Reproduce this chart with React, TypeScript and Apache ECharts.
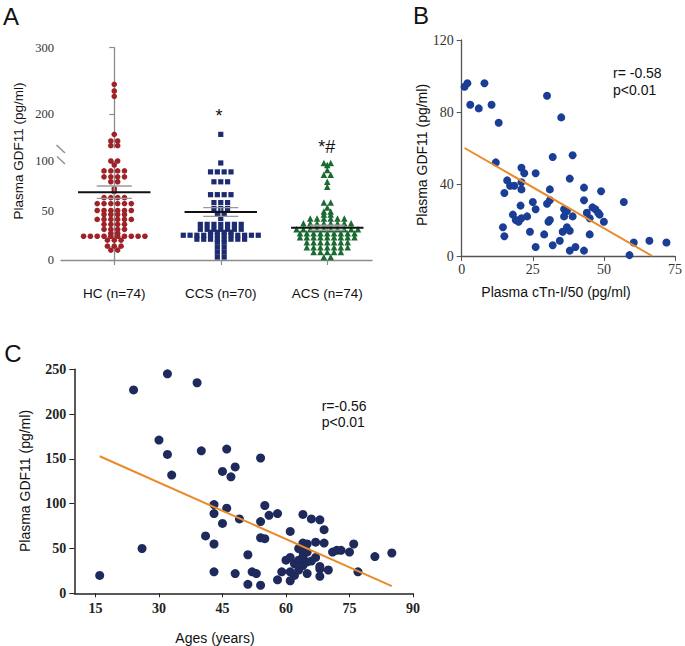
import React, { useEffect, useRef } from "react";
import * as echarts from "echarts";

// ---------- Panel A data ----------
const groupNames = ["HC (n=74)", "CCS (n=70)", "ACS (n=74)"];
const hcValues = [
  245, 235, 227, 170, 160, 160, 153, 153,
  100, 100, 96, 90, 90, 90, 90, 84, 84, 84, 84, 79, 79, 72, 69,
  63, 63, 63, 63, 57, 57, 57, 57, 57, 57,
  50, 50, 50, 50, 50, 50, 46, 46, 46, 46,
  41, 41, 41, 41, 41, 41, 36, 36, 36, 36, 31, 31, 31, 31,
  27, 27, 24, 24, 24, 24, 24, 24, 24, 24, 24, 24,
  20, 20, 20, 14, 14, 14, 10, 10,
];
const ccsValues = [
  170, 98, 89, 89, 89, 89, 79, 79, 79, 66, 66, 66, 66, 58, 58, 58,
  52, 52, 52, 47, 47, 42, 36, 36, 36, 36, 36, 36, 36,
  31, 31, 31, 31, 31, 31, 31, 28, 28, 28, 28,
  25, 25, 25, 25, 25, 25, 25, 25, 25, 25, 25, 25,
  21, 21, 21, 21, 21, 21, 21, 21, 18, 18, 13, 13, 8, 8, 3, 3,
];
const acsValues = [
  98, 98, 96, 91, 86, 86, 79, 74, 58, 58, 53, 49, 49, 46, 46,
  42, 42, 42, 42, 42, 42, 37, 37, 37, 37, 37, 37, 37, 37,
  31, 31, 31, 31, 31, 31, 31, 31, 31, 31,
  27, 27, 27, 27, 27, 27, 27, 27, 27,
  23, 23, 23, 23, 23, 23, 23, 23, 23,
  18, 18, 18, 18, 18, 18, 18, 13, 13, 13, 13, 13, 13, 13,
  8, 8, 8, 8, 8, 3, 3,
];
const groupMeans = [68.5, 48.5, 32.6];
const groupSems = [6.3, 4.4, 2.5];

// ---------- Panel B data (cTn-I/50, GDF11) ----------
const bPoints = [
  [1, 94], [2, 96], [3, 84], [6, 82], [8, 96], [10.5, 84], [13, 74], [12, 52],
  [30, 89], [35, 77], [32, 55], [39, 56], [16, 42], [15, 35], [17, 39], [18.5, 39],
  [21, 49], [22, 46], [21, 41], [21, 37], [26, 46], [31, 37], [38, 43], [43, 38],
  [49, 36], [57, 30], [20.7, 28], [25, 30], [26, 26], [30, 29], [31, 31], [36, 26],
  [37, 25], [43, 31], [46, 27], [47, 26], [48, 24], [48.5, 23], [44, 24], [45, 21],
  [39, 22], [36, 22], [18, 23], [19, 20], [20, 19], [21, 21], [23, 22], [30.5, 19],
  [31, 20], [14.5, 16], [15, 11], [24, 13.5], [29, 12], [32, 6], [26, 5], [34.5, 8.5],
  [35.5, 13.5], [37, 16], [38, 14], [38, 3], [40, 5], [43, 3], [45, 12], [50, 19],
  [59, 0.5], [60.5, 7.5], [66, 8.5], [72, 7.5],
];
const bFit = [[1, 60], [67, 0]];

// ---------- Panel C data (age, GDF11) ----------
const cPoints = [
  [16, 20], [24, 227], [32, 245], [39, 235], [26, 50], [30, 171], [32, 155], [33, 132],
  [40, 159], [46, 161], [54, 151], [45, 136], [48, 141], [47, 130], [43, 99], [43, 89],
  [46, 95], [45, 78], [49, 83], [41, 64], [43, 55], [43, 24], [48, 22], [51, 43],
  [51, 10], [52, 24], [53, 22], [54, 9], [55, 98], [56, 87], [54, 80], [54, 62],
  [55, 61], [58, 89], [58, 15], [59, 24], [61, 69], [60, 37], [61, 40], [61, 24],
  [61, 14], [62, 20], [62, 33], [63, 37], [64, 88], [63, 50], [64, 56], [65, 55],
  [64, 41], [64, 31], [65, 35], [65, 22], [66, 83], [67, 57], [67, 40], [68, 82],
  [68, 30], [68, 19], [69, 71], [69, 56], [68, 27], [70, 26], [71, 46], [72, 48],
  [73, 48], [75, 46], [76, 55], [77, 24], [81, 41], [85, 45], [65, 46], [64, 46],
  [66, 36], [63, 26],
];
const cFit = [[16, 153], [85, 8]];

const SANS = '"Liberation Sans", Arial, sans-serif';
const SERIF = '"Liberation Serif", "Times New Roman", serif';
const ORANGE = "#e98b2a";

function swarm(values: number[], center: number, step: number, keep: (v: number) => boolean) {
  const groups = new Map<number, number>();
  values.forEach((v) => groups.set(v, (groups.get(v) || 0) + 1));
  const out: number[][] = [];
  groups.forEach((n, v) => {
    if (!keep(v)) return;
    for (let i = 0; i < n; i++) out.push([center + (i - (n - 1) / 2) * step, v]);
  });
  return out;
}

const STEP = 0.064;
const groupVals = [hcValues, ccsValues, acsValues];
const groupColors = ["#9e2227", "#1d2c70", "#1b6a32"];
const groupSymbols = ["circle", "rect", "triangle"];
const groupSizes = [5.6, 5.2, 6.5];

function buildOption() {
  const aSeries: any[] = [];
  groupVals.forEach((vals, gi) => {
    [0, 1].forEach((seg) => {
      aSeries.push({
        type: "scatter",
        xAxisIndex: seg,
        yAxisIndex: seg,
        data: swarm(vals, gi, STEP, seg === 0 ? (v) => v <= 100 : (v) => v > 100),
        symbol: groupSymbols[gi],
        symbolSize: groupSizes[gi],
        itemStyle: { color: groupColors[gi], opacity: 1 },
        silent: true,
      });
    });
  });
  aSeries.push({
    type: "custom",
    xAxisIndex: 0,
    yAxisIndex: 0,
    z: 10,
    data: groupMeans.map((m, i) => [i, m, groupSems[i]]),
    renderItem: (params: any, api: any) => {
      const c = api.value(0);
      const m = api.value(1);
      const s = api.value(2);
      const l = api.coord([c - 0.34, m]);
      const r = api.coord([c + 0.34, m]);
      const tl = api.coord([c - 0.165, m + s]);
      const tr = api.coord([c + 0.165, m + s]);
      const bl = api.coord([c - 0.165, m - s]);
      const br = api.coord([c + 0.165, m - s]);
      const grey = { stroke: "#9a9a9a", lineWidth: 1.4 };
      return {
        type: "group",
        children: [
          { type: "line", shape: { x1: (tl[0] + tr[0]) / 2, y1: tl[1], x2: (bl[0] + br[0]) / 2, y2: bl[1] }, style: grey },
          { type: "line", shape: { x1: tl[0], y1: tl[1], x2: tr[0], y2: tr[1] }, style: grey },
          { type: "line", shape: { x1: bl[0], y1: bl[1], x2: br[0], y2: br[1] }, style: grey },
          { type: "line", shape: { x1: l[0], y1: l[1], x2: r[0], y2: r[1] }, style: { stroke: "#111", lineWidth: 2 } },
        ],
      };
    },
  });

  const aAxisLine = { lineStyle: { color: "#8c8c8c", width: 1.3 } };
  const aTick = { length: 5, lineStyle: { color: "#8c8c8c", width: 1.2 } };

  const text = (t: string, x: number, y: number, size: number, extra: any = {}, rot = 0) => ({
    type: "text",
    x,
    y,
    rotation: rot,
    style: {
      text: t,
      fontSize: size,
      fontFamily: SANS,
      fill: "#111",
      align: "center",
      verticalAlign: "middle",
      ...extra,
    },
  });

  return {
    animation: false,
    backgroundColor: "#fff",
    grid: [
      { left: 61, top: 161, width: 311, height: 99 },
      { left: 61, top: 47.7, width: 311, height: 100 },
      { left: 461.7, top: 40, width: 216, height: 216 },
      { left: 74.3, top: 369.3, width: 338.7, height: 224 },
    ],
    xAxis: [
      {
        gridIndex: 0,
        type: "value",
        min: -0.5,
        max: 2.42,
        axisLine: aAxisLine,
        axisTick: { ...aTick, customValues: [0, 1, 2] },
        axisLabel: {
          customValues: [0, 1, 2],
          formatter: (v: number) => groupNames[Math.round(v)] || "",
          fontFamily: SANS,
          fontSize: 13.5,
          color: "#111",
          margin: 26,
        },
        splitLine: { show: false },
      },
      { gridIndex: 1, type: "value", min: -0.5, max: 2.42, show: false },
      {
        gridIndex: 2,
        type: "value",
        min: 0,
        max: 75,
        interval: 25,
        axisLine: { lineStyle: { color: "#555", width: 1.3 } },
        axisTick: { length: 5, lineStyle: { color: "#555" } },
        axisLabel: { fontFamily: SERIF, fontSize: 14, color: "#333", margin: 6 },
        splitLine: { show: false },
      },
      {
        gridIndex: 3,
        type: "value",
        min: 10,
        max: 90,
        axisLine: { lineStyle: { color: "#222", width: 1.5 } },
        axisTick: { length: 4, customValues: [15, 30, 45, 60, 75, 90], lineStyle: { color: "#222" } },
        axisLabel: {
          customValues: [15, 30, 45, 60, 75, 90],
          fontFamily: SERIF,
          fontSize: 14,
          fontWeight: "bold",
          color: "#222",
          margin: 8,
        },
        splitLine: { show: false },
      },
    ],
    yAxis: [
      {
        gridIndex: 0,
        type: "value",
        min: 0,
        max: 100,
        axisLine: aAxisLine,
        axisTick: { ...aTick, customValues: [0, 50, 100] },
        axisLabel: { customValues: [0, 50, 100], fontFamily: SERIF, fontSize: 12.5, color: "#333", margin: 7 },
        splitLine: { show: false },
      },
      {
        gridIndex: 1,
        type: "value",
        min: 150,
        max: 300,
        axisLine: aAxisLine,
        axisTick: { ...aTick, customValues: [200, 300] },
        axisLabel: { customValues: [200, 300], fontFamily: SERIF, fontSize: 12.5, color: "#333", margin: 7 },
        splitLine: { show: false },
      },
      {
        gridIndex: 2,
        type: "value",
        min: 0,
        max: 120,
        interval: 40,
        axisLine: { lineStyle: { color: "#555", width: 1.3 } },
        axisTick: { length: 5, lineStyle: { color: "#555" } },
        axisLabel: { fontFamily: SERIF, fontSize: 14, color: "#333", margin: 8 },
        splitLine: { show: false },
      },
      {
        gridIndex: 3,
        type: "value",
        min: 0,
        max: 250,
        interval: 50,
        axisLine: { lineStyle: { color: "#222", width: 1.5 } },
        axisTick: { length: 5, lineStyle: { color: "#222" } },
        axisLabel: { fontFamily: SERIF, fontSize: 14, fontWeight: "bold", color: "#222", margin: 8 },
        splitLine: { show: false },
      },
    ],
    series: [
      ...aSeries,
      {
        type: "scatter",
        xAxisIndex: 2,
        yAxisIndex: 2,
        data: bPoints,
        symbolSize: 8,
        itemStyle: { color: "#1a3d96", opacity: 1 },
        silent: true,
      },
      {
        type: "line",
        xAxisIndex: 2,
        yAxisIndex: 2,
        data: bFit,
        symbol: "none",
        lineStyle: { color: ORANGE, width: 2 },
        silent: true,
      },
      {
        type: "scatter",
        xAxisIndex: 3,
        yAxisIndex: 3,
        data: cPoints,
        symbolSize: 9,
        itemStyle: { color: "#1e2a5c", opacity: 1 },
        silent: true,
      },
      {
        type: "line",
        xAxisIndex: 3,
        yAxisIndex: 3,
        data: cFit,
        symbol: "none",
        lineStyle: { color: ORANGE, width: 2 },
        silent: true,
      },
    ],
    graphic: [
      // axis break marks (panel A)
      { type: "line", shape: { x1: 56.5, y1: 145, x2: 65, y2: 153 }, style: { stroke: "#8c8c8c", lineWidth: 1.3 } },
      { type: "line", shape: { x1: 57, y1: 156.5, x2: 65, y2: 164 }, style: { stroke: "#8c8c8c", lineWidth: 1.3 } },
      // panel letters
      text("A", 11, 16, 24),
      text("B", 421, 15, 24),
      text("C", 13, 353, 24),
      // panel A texts
      text("Plasma GDF11 (pg/ml)", 18, 151, 13.5, {}, Math.PI / 2),
      text("*", 219, 116, 18),
      text("*#", 326.7, 147, 18),
      // panel B texts
      text("Plasma GDF11 (pg/ml)", 421.7, 155, 14, {}, Math.PI / 2),
      text("Plasma cTn-I/50 (pg/ml)", 556, 292, 14),
      text("r= -0.58", 613, 73, 14, { align: "left" }),
      text("p<0.01", 613, 90, 14, { align: "left" }),
      // panel C texts
      text("Plasma GDF11 (pg/ml)", 25, 481, 14, {}, Math.PI / 2),
      text("Ages (years)", 215, 638, 14),
      text("r=-0.56", 321.7, 405.5, 14, { align: "left" }),
      text("p<0.01", 321.7, 421.5, 14, { align: "left" }),
    ],
  };
}

export default function App() {
  const ref = useRef<HTMLDivElement>(null);
  useEffect(() => {
    const chart = echarts.init(ref.current as HTMLDivElement, null, { renderer: "svg" });
    chart.setOption(buildOption() as any);
    return () => chart.dispose();
  }, []);
  return (
    <div
      ref={ref}
      style={{ position: "absolute", left: 0, top: 0, width: 685, height: 646, background: "#fff" }}
    />
  );
}
